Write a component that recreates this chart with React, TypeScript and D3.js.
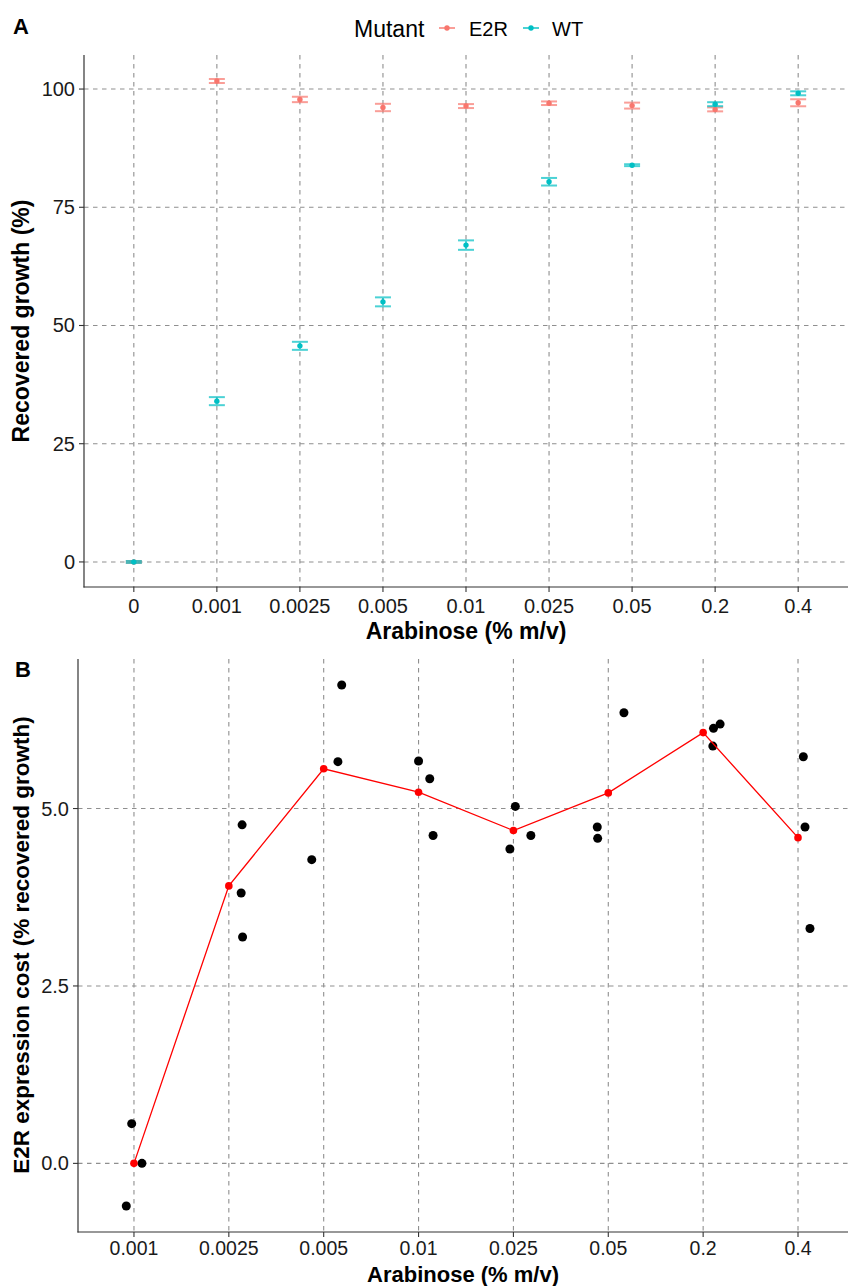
import React from 'react';
import * as d3 from 'd3';

// panel A: recovered growth per arabinose concentration
const concA = ['0', '0.001', '0.0025', '0.005', '0.01', '0.025', '0.05', '0.2', '0.4'];
const e2rMean = [0, 101.7, 97.8, 96.1, 96.4, 97.0, 96.5, 95.7, 97.1];
const e2rSe = [0.2, 0.42, 0.57, 0.78, 0.42, 0.38, 0.63, 0.42, 0.74];
const wtMean = [0, 34.0, 45.7, 55.0, 67.0, 80.4, 83.9, 96.8, 99.1];
const wtSe = [0.2, 0.85, 0.85, 0.95, 1.0, 0.8, 0.2, 0.42, 0.42];
const ticksA = [0, 25, 50, 75, 100];

// panel B: E2R expression cost
const concB = ['0.001', '0.0025', '0.005', '0.01', '0.025', '0.05', '0.2', '0.4'];
const costMean = [0, 3.91, 5.56, 5.23, 4.69, 5.22, 6.07, 4.59];
// replicates: category index, value, jitter (category units)
const repIndex = [0, 0, 0, 1, 1, 1, 2, 2, 2, 3, 3, 3, 4, 4, 4, 5, 5, 5, 6, 6, 6, 7, 7, 7];
const repValue = [0.56, 0.0, -0.6, 4.77, 3.81, 3.19, 6.74, 5.66, 4.28, 5.67, 5.42, 4.62,
  5.03, 4.62, 4.43, 4.74, 4.58, 6.35, 6.13, 6.19, 5.88, 5.73, 4.74, 3.31];
const repJitter = [-0.024, 0.084, -0.081, 0.14, 0.13, 0.145, 0.19, 0.15, -0.126, 0.0, 0.118, 0.153,
  0.02, 0.184, -0.037, -0.116, -0.112, 0.165, 0.109, 0.179, 0.102, 0.056, 0.074, 0.126];
const ticksB = [0, 2.5, 5];

const mutants = ['E2R', 'WT'];
const colors = ['#F8766D', '#00BFC4'];

const FONT = '"Liberation Sans", Arial, Helvetica, sans-serif';
const GRID = '#8f8f8f';
const AXIS = '#333';

export default function App() {
  const xA = d3.scaleLinear().domain([-0.6, 8.6]).range([84, 848]);
  const yA = d3.scaleLinear().domain([-5.3, 107.2]).range([587, 55]);
  const xB = d3.scaleLinear().domain([-0.59, 7.527]).range([78, 848]);
  const yB = d3.scaleLinear().domain([-0.967, 7.107]).range([1232, 659]);
  const fmtB = d3.format('.1f');

  const seriesA = [
    { mean: e2rMean, se: e2rSe },
    { mean: wtMean, se: wtSe },
  ];
  const capW = 8;

  const line = d3.line<number>()
    .x((_, i) => xB(i))
    .y(d => yB(d));

  return (
    <svg width={848} height={1286} style={{ position: 'absolute', left: 0, top: 0, display: 'block', background: '#fff' }}
      fontFamily={FONT}>
      {/* ---------- panel A ---------- */}
      <g>
        {concA.map((c, i) => (
          <line key={'gvA' + c} x1={xA(i)} x2={xA(i)} y1={yA.range()[1]} y2={yA.range()[0]}
            stroke={GRID} strokeDasharray="4.5,4.5" strokeWidth={1.1} />
        ))}
        {ticksA.map(t => (
          <line key={'ghA' + t} x1={84} x2={848} y1={yA(t)} y2={yA(t)}
            stroke={GRID} strokeDasharray="4.5,4.5" strokeWidth={1.1} />
        ))}
        {seriesA.map((s, k) => (
          <g key={'sA' + k}>
            {s.mean.map((m, i) => {
              const x = xA(i);
              const lo = yA(m - s.se[i]);
              const hi = yA(m + s.se[i]);
              return (
                <g key={i}>
                  <g stroke={colors[k]} strokeWidth={2} opacity={0.7}>
                    <line x1={x} x2={x} y1={lo} y2={hi} />
                    <line x1={x - capW} x2={x + capW} y1={lo} y2={lo} />
                    <line x1={x - capW} x2={x + capW} y1={hi} y2={hi} />
                  </g>
                  <circle cx={x} cy={yA(m)} r={2.7} fill={colors[k]} />
                </g>
              );
            })}
          </g>
        ))}
        {/* axes */}
        <line x1={84} x2={84} y1={55} y2={587.5} stroke={AXIS} strokeWidth={1.2} />
        <line x1={83.5} x2={848} y1={587} y2={587} stroke={AXIS} strokeWidth={1.2} />
        {ticksA.map(t => (
          <g key={'tA' + t}>
            <line x1={79} x2={84} y1={yA(t)} y2={yA(t)} stroke={AXIS} strokeWidth={1.1} />
            <text x={75} y={yA(t) + 7} fontSize={20} textAnchor="end" fill="#1a1a1a">{t}</text>
          </g>
        ))}
        {concA.map((c, i) => (
          <g key={'xtA' + c}>
            <line x1={xA(i)} x2={xA(i)} y1={587} y2={592} stroke={AXIS} strokeWidth={1.1} />
            <text x={xA(i)} y={613} fontSize={20} textAnchor="middle" fill="#1a1a1a">{c}</text>
          </g>
        ))}
        <text x={466} y={639} fontSize={23} fontWeight="bold" textAnchor="middle">Arabinose (% m/v)</text>
        <text transform={`translate(29,321) rotate(-90)`} fontSize={23} fontWeight="bold" textAnchor="middle">
          Recovered growth (%)
        </text>
        <text x={13} y={34} fontSize={22} fontWeight="bold">A</text>
        {/* legend */}
        <text x={354} y={37} fontSize={23}>Mutant</text>
        {mutants.map((m, k) => {
          const kx = [447, 531][k];
          return (
            <g key={'lg' + m}>
              <line x1={kx - 8} x2={kx + 8} y1={28} y2={28} stroke={colors[k]} strokeWidth={2} opacity={0.7} />
              <circle cx={kx} cy={28} r={2.7} fill={colors[k]} />
              <text x={[469, 552][k]} y={36} fontSize={20}>{m}</text>
            </g>
          );
        })}
      </g>

      {/* ---------- panel B ---------- */}
      <g>
        {concB.map((c, i) => (
          <line key={'gvB' + c} x1={xB(i)} x2={xB(i)} y1={yB.range()[1]} y2={yB.range()[0]}
            stroke={GRID} strokeDasharray="4.5,4.5" strokeWidth={1.1} />
        ))}
        {ticksB.map(t => (
          <line key={'ghB' + t} x1={78} x2={848} y1={yB(t)} y2={yB(t)}
            stroke={GRID} strokeDasharray="4.5,4.5" strokeWidth={1.1} />
        ))}
        {repValue.map((v, j) => (
          <circle key={'rep' + j} cx={xB(repIndex[j] + repJitter[j])} cy={yB(v)} r={4.5} fill="#000" />
        ))}
        <path d={line(costMean) || ''} fill="none" stroke="#ff0000" strokeWidth={1.3} />
        {costMean.map((v, i) => (
          <circle key={'mean' + i} cx={xB(i)} cy={yB(v)} r={3.8} fill="#ff0000" />
        ))}
        <line x1={78} x2={78} y1={659} y2={1232.5} stroke={AXIS} strokeWidth={1.2} />
        <line x1={77.5} x2={848} y1={1232} y2={1232} stroke={AXIS} strokeWidth={1.2} />
        {ticksB.map(t => (
          <g key={'tB' + t}>
            <line x1={73} x2={78} y1={yB(t)} y2={yB(t)} stroke={AXIS} strokeWidth={1.1} />
            <text x={69} y={yB(t) + 7} fontSize={20} textAnchor="end" fill="#1a1a1a">{fmtB(t)}</text>
          </g>
        ))}
        {concB.map((c, i) => (
          <g key={'xtB' + c}>
            <line x1={xB(i)} x2={xB(i)} y1={1232} y2={1237} stroke={AXIS} strokeWidth={1.1} />
            <text x={xB(i)} y={1255} fontSize={19.5} textAnchor="middle" fill="#1a1a1a">{c}</text>
          </g>
        ))}
        <text x={463} y={1282} fontSize={22} fontWeight="bold" textAnchor="middle">Arabinose (% m/v)</text>
        <text transform={`translate(29,945) rotate(-90)`} fontSize={22.5} fontWeight="bold" textAnchor="middle">
          E2R expression cost (% recovered growth)
        </text>
        <text x={15} y={677} fontSize={22} fontWeight="bold">B</text>
      </g>
    </svg>
  );
}
